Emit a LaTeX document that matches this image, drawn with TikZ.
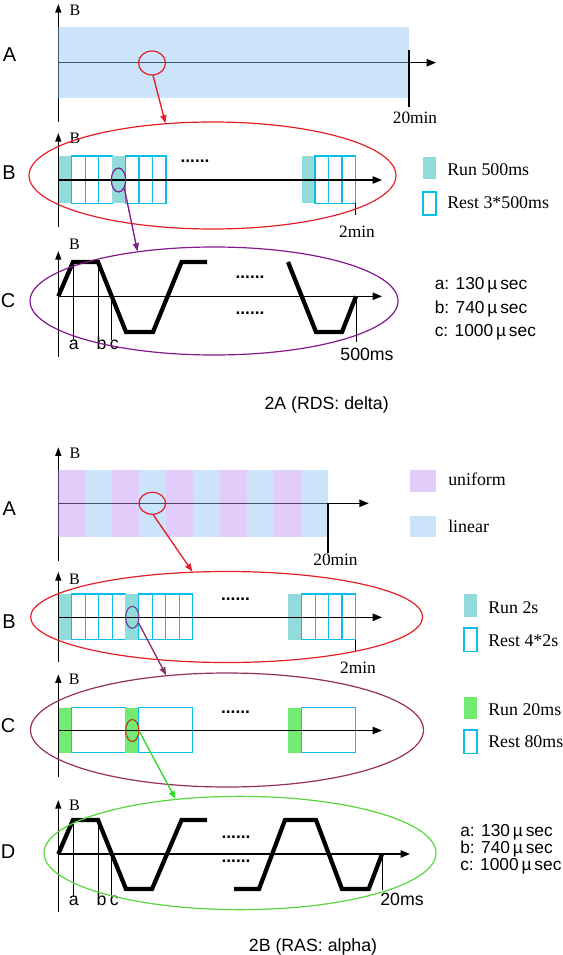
\documentclass[tikz,border=0pt]{standalone}
\usepackage{fontspec}
\setmainfont{Liberation Serif}
\newfontfamily\sansf{Liberation Sans}
\usetikzlibrary{shapes.geometric,arrows.meta}
\definecolor{bluefill}{RGB}{138,193,244}
\definecolor{purpfill}{RGB}{188,138,244}
\definecolor{tealrun}{RGB}{145,220,218}
\definecolor{cyanline}{RGB}{10,190,235}
\definecolor{greenrun}{RGB}{115,235,115}
\definecolor{zred}{RGB}{228,30,40}
\definecolor{zpurple}{RGB}{130,25,140}
\definecolor{zmaroon}{RGB}{150,45,95}
\definecolor{zpurp2}{RGB}{110,70,150}
\definecolor{zarrow2}{RGB}{140,45,110}
\definecolor{zbrown}{RGB}{190,60,20}
\definecolor{zgreen}{RGB}{85,215,60}
\definecolor{zgreenar}{RGB}{40,220,40}
\tikzset{
  axisline/.style={line width=1pt,-{Triangle[length=7pt,width=5.5pt]}},
  vaxis/.style={line width=1pt,-{Triangle[length=6.5pt,width=4.5pt]}},
  wave/.style={line width=3.2pt},
  thinline/.style={line width=0.6pt},
  runbox/.style={fill=tealrun},
  greenbox/.style={fill=greenrun},
  restbox/.style={draw=cyanline,line width=0.9pt},
  sidelab/.style={font=\sansf\fontsize{15}{17}\selectfont,inner sep=0},
  blab/.style={font=\fontsize{12}{14}\selectfont,inner sep=0},
  serlab/.style={font=\fontsize{13}{15}\selectfont,inner sep=0},
  leglab/.style={font=\fontsize{13.4}{15}\selectfont,anchor=base west,inner sep=0},
  sanslab/.style={font=\sansf\fontsize{13.3}{15}\selectfont,anchor=base,inner sep=0},
  notelab/.style={font=\sansf\fontsize{13}{15}\selectfont,anchor=base west,inner sep=0},
  dotlab/.style={font=\sansf\bfseries\fontsize{13}{15}\selectfont,inner sep=0},
  zoomell/.style={ellipse,inner sep=0,line width=0.9pt},
  zarrow/.style={line width=1pt,-{Triangle[length=6pt,width=4.5pt]}},
}
\begin{document}
\begin{tikzpicture}[x=0.75pt,y=-0.75pt]
\useasboundingbox (0,0) rectangle (563,955);
% ================= 2A =================
% ---- panel A
\node[sidelab] (sA1) at (9.5,55) {A};
\draw[vaxis] (58.3,122) -- (58.3,4);
\node[blab] (bA1) at (75,10) {B};
\draw[axisline] (58.3,62.7) -- (436,62.7);
\fill[bluefill,fill opacity=0.435] (58.3,27) rectangle (409,98);
\draw[thinline,line width=0.8pt] (409,50) -- (409,107);
\node[serlab] (tA1) at (415,118) {20min};
% ---- panel B
\node[sidelab] (sB1) at (9,172.7) {B};
\foreach \s in {58.3,112.1,301.6} {
  \fill[runbox] (\s,156) rectangle ({\s+13.45},203.5);
  \foreach \k in {1,2,3} \draw[restbox] ({\s+13.45*\k},156) rectangle ({\s+13.45*(\k+1)},203.5);
}
\draw[vaxis] (58.3,227) -- (58.3,133);
\node[blab] (bB1) at (75,138) {B};
\draw[axisline] (58.3,180) -- (382,180);
\draw[thinline,line width=0.8pt] (355.4,203.5) -- (355.4,215);
\node[serlab] (tB1) at (357,232) {2min};
\node[dotlab] (dB1) at (195,161) {......};
\fill[runbox] (423,157) rectangle (436,179);
\draw[restbox] (423,192) rectangle (436,215);
\node[leglab] (lB1a) at (447,175.7) {Run 500ms};
\node[leglab] (lB1b) at (447,209) {Rest 3*500ms};
% ---- panel C
\node[sidelab] (sC1) at (8,301) {C};
\draw[vaxis] (58.3,357) -- (58.3,251);
\node[blab] (bC1) at (74.5,244) {B};
\draw[axisline] (58.3,296.3) -- (382,296.3);
\draw[wave] (58.3,296.3) -- (73,262) -- (98,262) -- (126,332) -- (153,332) -- (181.6,262) -- (207,262);
\draw[wave] (288,262) -- (316,332) -- (342,332) -- (356,296.3);
\draw[thinline] (73,262) -- (73,340);
\draw[thinline] (98,262) -- (98,340);
\draw[thinline] (111.6,296.3) -- (111.6,340);
\draw[thinline] (356,296.3) -- (356,342);
\node[sanslab] (la1) at (73.7,349) {a};
\node[sanslab] (lb1) at (101.5,349) {b};
\node[sanslab] (lc1) at (114.4,349) {c};
\node[sanslab] (lt1) at (367,360) {500ms};
\node[dotlab] (dC1a) at (250,277) {......};
\node[dotlab] (dC1b) at (250,313) {......};
\node[notelab] (n1a) at (434.5,290) {a: 130\,µ\,sec};
\node[notelab] (n1b) at (434.5,313.3) {b: 740\,µ\,sec};
\node[notelab] (n1c) at (434.5,336.7) {c: 1000\,µ\,sec};
\node[sanslab] (cap1) at (326.6,409.3) {2A (RDS: delta)};
% ---- zoom ellipses 2A
\node[zoomell,draw=zred,minimum width=20.25pt,minimum height=18pt] (smA1) at (152,63) {};
\node[zoomell,draw=zred,minimum width=275.25pt,minimum height=80.25pt] (bigB1) at (212.5,175.5) {};
\node[zoomell,draw=zpurple,minimum width=10.8pt,minimum height=18pt] (smB1) at (118.5,180) {};
\node[zoomell,draw=zpurple,minimum width=276pt,minimum height=81pt] (bigC1) at (214,301) {};
\draw[zarrow,zred] (smA1.-85) -- (bigB1.132.6);
\draw[zarrow,zpurple] (smB1.-55) -- (bigC1.147.1);
% ================= 2B =================
% ---- panel A
\node[sidelab] (sA2) at (9.3,509) {A};
\draw[vaxis] (58.3,560.7) -- (58.3,447.3);
\node[blab] (bA2) at (75,453) {B};
\draw[axisline] (58.3,503.3) -- (368.7,503.3);
\foreach \i in {0,...,9} {
  \pgfmathsetmacro{\xa}{58.3+26.97*\i}
  \pgfmathsetmacro{\xb}{58.3+26.97*(\i+1)}
  \ifodd\i
    \fill[bluefill,fill opacity=0.435] (\xa,470) rectangle (\xb,537.3);
  \else
    \fill[purpfill,fill opacity=0.435] (\xa,470) rectangle (\xb,537.3);
  \fi
}
\draw[thinline,line width=0.8pt] (328,503.3) -- (328,553);
\node[serlab] (tA2) at (335.5,560) {20min};
\fill[purpfill,fill opacity=0.435] (410,470) rectangle (436,492);
\fill[bluefill,fill opacity=0.435] (410,515.7) rectangle (436,537);
\node[leglab] (lA2a) at (448,485.7) {uniform};
\node[leglab] (lA2b) at (448,532.3) {linear};
% ---- panel B
\node[sidelab] (sB2) at (9,622) {B};
\foreach \s in {58.3,125.3,288.2} {
  \fill[runbox] (\s,594) rectangle ({\s+13.45},639.5);
  \foreach \k in {1,2,3,4} \draw[restbox] ({\s+13.45*\k},594) rectangle ({\s+13.45*(\k+1)},639.5);
}
\draw[vaxis] (58.3,662) -- (58.3,572);
\node[blab] (bB2) at (74.5,579) {B};
\draw[axisline] (58.3,617.3) -- (382,617.3);
\draw[thinline,line width=0.8pt] (355.45,639.5) -- (355.45,652);
\node[serlab] (tB2) at (358,668) {2min};
\node[dotlab] (dB2) at (235.5,599) {......};
\fill[runbox] (464,594) rectangle (477,617);
\draw[restbox] (464,628) rectangle (477,651.5);
\node[leglab] (lB2a) at (488,613.3) {Run 2s};
\node[leglab] (lB2b) at (488,646.7) {Rest 4*2s};
% ---- panel C
\node[sidelab] (sC2) at (8,726) {C};
\foreach \s in {58.3,125.3,288.2} {
  \fill[greenbox] (\s,707.7) rectangle ({\s+13.45},752.7);
  \draw[restbox] ({\s+13.45},707.7) rectangle ({\s+67.25},752.7);
}
\draw[vaxis] (58.3,776.7) -- (58.3,674.3);
\node[blab] (bC2) at (74.3,679.3) {B};
\draw[axisline] (58.3,730.5) -- (382,730.5);
\node[dotlab] (dC2) at (235.5,712) {......};
\fill[greenbox] (464,696.7) rectangle (477,719.3);
\draw[restbox] (464,730) rectangle (477,753.3);
\node[leglab] (lC2a) at (488,715) {Run 20ms};
\node[leglab] (lC2b) at (488,747.3) {Rest 80ms};
% ---- panel D
\node[sidelab] (sD2) at (8,852) {D};
\draw[vaxis] (58.3,911.7) -- (58.3,800);
\node[blab] (bD2) at (74.5,805) {B};
\draw[axisline] (58.3,854) -- (410,854);
\draw[wave] (58.3,854) -- (73,820) -- (98,820) -- (126,889) -- (152,889) -- (181.6,820) -- (207,820);
\draw[wave] (234,889) -- (259,889) -- (285,820) -- (316,820) -- (342,889) -- (368.7,889) -- (382,854);
\draw[thinline] (73,820) -- (73,897);
\draw[thinline] (98,820) -- (98,897);
\draw[thinline] (111.6,854) -- (111.6,897);
\draw[thinline] (382,854) -- (382,890);
\node[sanslab] (la2) at (73.7,905) {a};
\node[sanslab] (lb2) at (101.5,905) {b};
\node[sanslab] (lc2) at (114.4,905) {c};
\node[sanslab] (lt2) at (402,905) {20ms};
\node[dotlab] (dD2a) at (236,837) {......};
\node[dotlab] (dD2b) at (236,861) {......};
\node[notelab] (n2a) at (460,836.7) {a: 130\,µ\,sec};
\node[notelab] (n2b) at (460,853.3) {b: 740\,µ\,sec};
\node[notelab] (n2c) at (460,870) {c: 1000\,µ\,sec};
\node[sanslab] (cap2) at (313,951.7) {2B (RAS: alpha)};
% ---- zoom ellipses 2B
\node[zoomell,draw=zred,minimum width=20pt,minimum height=16.5pt] (smA2) at (152.3,503.3) {};
\node[zoomell,draw=zred,minimum width=294pt,minimum height=68.25pt] (bigB2) at (226.6,617) {};
\node[zoomell,draw=zpurp2,minimum width=10pt,minimum height=16.5pt] (smB2) at (132.3,617.3) {};
\node[zoomell,draw=zmaroon,minimum width=294.75pt,minimum height=85.5pt] (bigC2) at (227,730) {};
\node[zoomell,draw=zbrown,minimum width=10pt,minimum height=16.5pt] (smC2) at (132.3,730.5) {};
\node[zoomell,draw=zgreen,minimum width=294pt,minimum height=85pt] (bigD2) at (240,853) {};
\draw[zarrow,zred] (smA2.-85) -- (bigB2.127.7);
\draw[zarrow,zarrow2] (smB2.-42) -- (bigC2.138.9);
\draw[zarrow,zgreenar] (smC2.-10) -- (bigD2.140.1);
\end{tikzpicture}
\end{document}
